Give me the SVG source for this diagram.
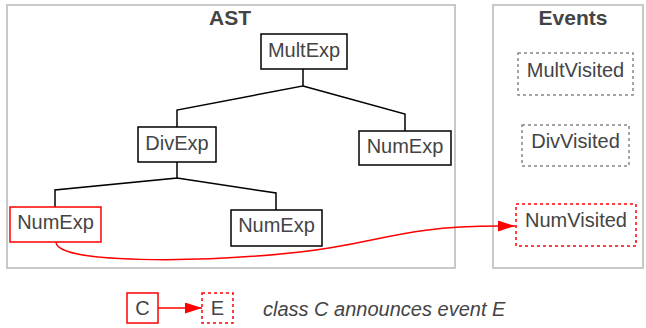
<svg xmlns="http://www.w3.org/2000/svg" width="646" height="328" viewBox="0 0 646 328">
<defs>
<marker id="ah" markerWidth="17" markerHeight="11" refX="17" refY="5.5" orient="auto" markerUnits="userSpaceOnUse">
<path d="M0,0 L17,5.5 L0,11 Z" fill="#ff0000"/>
</marker>
</defs>
<style>
.frame{fill:none;stroke:#c8c8c8;stroke-width:2}
.title{font-family:"Liberation Sans",Arial,sans-serif;font-size:21px;font-weight:bold;fill:#444;text-anchor:middle}
.lbl{font-family:"Liberation Sans",Arial,sans-serif;font-size:20px;fill:#444;text-anchor:middle}
.cls{fill:#fff;stroke:#000;stroke-width:1.5}
.red{fill:#fff;stroke:#ff0000;stroke-width:1.5}
.ev{fill:#fff;stroke:#888;stroke-width:1.5;stroke-dasharray:3,3}
.evr{fill:#fff;stroke:#ff0000;stroke-width:1.5;stroke-dasharray:3,3}
.edge{fill:none;stroke:#000;stroke-width:1.5}
.rl{fill:none;stroke:#ff0000;stroke-width:1.5}
.note{font-family:"Liberation Sans",Arial,sans-serif;font-size:20px;font-style:italic;fill:#444}
</style>
<g id="ast-frame">
<rect class="frame" x="7" y="5" width="448" height="263"/>
<text class="title" x="230" y="25">AST</text>
</g>
<g id="events-frame">
<rect class="frame" x="493" y="5" width="150" height="263"/>
<text class="title" x="573" y="25">Events</text>
</g>
<g id="connectors">
<path class="edge" d="M303,69 V86 L177,110 V127 M303,86 L405,114 V131"/>
<path class="edge" d="M177,162 V178 L55,190 V207 M177,178 L276,193 V210"/>
<path class="rl" d="M56,242 C56,264 200,263 300,252 C380,243 400,226 500,226 L515,226" marker-end="url(#ah)"/>
<path class="rl" d="M158,308 L202,308" marker-end="url(#ah)"/>
</g>
<g id="multexp">
<rect class="cls" x="261" y="34" width="86" height="35"/>
<text class="lbl" x="304" y="57">MultExp</text>
</g>
<g id="divexp">
<rect class="cls" x="138" y="127" width="78" height="35"/>
<text class="lbl" x="177" y="150">DivExp</text>
</g>
<g id="numexp-right">
<rect class="cls" x="359" y="131" width="92" height="34"/>
<text class="lbl" x="405" y="153">NumExp</text>
</g>
<g id="numexp-left">
<rect class="red" x="10" y="207" width="91" height="35"/>
<text class="lbl" x="55.5" y="229">NumExp</text>
</g>
<g id="numexp-mid">
<rect class="cls" x="231" y="210" width="91" height="36"/>
<text class="lbl" x="276.5" y="232">NumExp</text>
</g>
<g id="multvisited">
<rect class="ev" x="518" y="53" width="115" height="42"/>
<text class="lbl" x="575.5" y="77">MultVisited</text>
</g>
<g id="divvisited">
<rect class="ev" x="522" y="125" width="107" height="41"/>
<text class="lbl" x="575.5" y="148">DivVisited</text>
</g>
<g id="numvisited">
<rect class="evr" x="516" y="204" width="120" height="42"/>
<text class="lbl" x="576" y="227">NumVisited</text>
</g>
<g id="legend-c">
<rect class="red" x="127" y="293" width="31" height="30"/>
<text class="lbl" x="142.5" y="315">C</text>
</g>
<g id="legend-e">
<rect class="evr" x="202" y="293" width="31" height="30"/>
<text class="lbl" x="217.5" y="315">E</text>
</g>
<g id="legend-text">
<text class="note" x="263" y="316">class C announces event E</text>
</g>
</svg>
